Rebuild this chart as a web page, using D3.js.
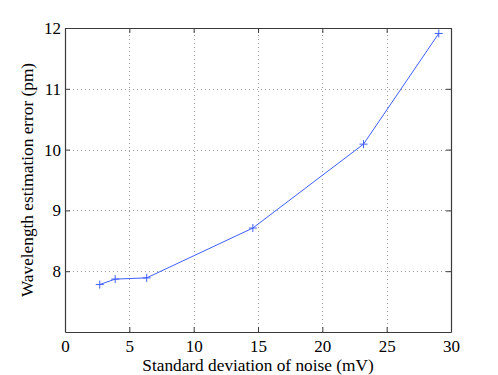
<!DOCTYPE html>
<html>
<head>
<meta charset="utf-8">
<script src="https://cdn.jsdelivr.net/npm/d3@7.8.5/dist/d3.min.js"></script>
<style>
  body { margin: 0; background: #fff; }
  svg { display: block; font-family: "Liberation Serif", "Times New Roman", serif; }
</style>
</head>
<body>
<div id="chart"></div>
<script>
const noiseStd = [2.7, 3.9, 6.35, 14.6, 23.2, 29.05]
const waveError = [7.78, 7.87, 7.89, 8.71, 10.09, 11.91]
const xTicks = [0, 5, 10, 15, 20, 25, 30]
const yTicks = [8, 9, 10, 11, 12]

const width = 498, height = 375
const margin = {top: 28, right: 47, bottom: 43, left: 65}
const tickFont = 17
const labelFont = 17.3
const lineColor = "#3f5fff"
const axisColor = "#3a3a3a"

const data = noiseStd.map((x, i) => ({x, y: waveError[i]}))

const x = d3.scaleLinear().domain([0, 30]).range([margin.left, width - margin.right])
const y = d3.scaleLinear().domain([7, 12]).range([height - margin.bottom, margin.top])

const svg = d3.select("#chart").append("svg")
  .attr("width", width).attr("height", height)

// dotted grid
const grid = svg.append("g").attr("stroke", "#9a9a9a").attr("stroke-width", 1)
  .attr("stroke-dasharray", "1,3")
grid.selectAll("line.gx").data(xTicks.slice(1, -1)).join("line")
  .attr("x1", d => Math.round(x(d)) + 0.5).attr("x2", d => Math.round(x(d)) + 0.5)
  .attr("y1", y(7)).attr("y2", y(12))
grid.selectAll("line.gy").data(yTicks.slice(0, -1)).join("line")
  .attr("y1", d => Math.round(y(d)) + 0.5).attr("y2", d => Math.round(y(d)) + 0.5)
  .attr("x1", x(0)).attr("x2", x(30))

// axes, ticks inward on all four sides (MATLAB box style)
const tickLen = 5
const fmt = d3.format("d")
const axes = [
  d3.axisBottom(x).tickValues(xTicks).tickFormat(fmt).tickSizeInner(-tickLen).tickSizeOuter(0).tickPadding(7.5),
  d3.axisTop(x).tickValues(xTicks).tickSizeInner(-tickLen).tickSizeOuter(0).tickFormat(""),
  d3.axisLeft(y).tickValues(yTicks).tickFormat(fmt).tickSizeInner(-tickLen).tickSizeOuter(0).tickPadding(4),
  d3.axisRight(y).tickValues(yTicks).tickSizeInner(-tickLen).tickSizeOuter(0).tickFormat("")
]
const translations = [
  [0, height - margin.bottom], [0, margin.top], [margin.left, 0], [width - margin.right, 0]
]
axes.forEach((ax, i) => {
  const g = svg.append("g")
    .attr("transform", `translate(${translations[i][0]},${translations[i][1]})`)
    .call(ax)
  g.attr("font-size", tickFont).attr("font-family", "'Liberation Serif', serif")
  g.select(".domain").attr("stroke", axisColor).attr("stroke-width", 1.2)
  g.selectAll(".tick line").attr("stroke", axisColor)
  g.selectAll(".tick text").attr("fill", "#000")
})

// data line and + markers
svg.append("path")
  .datum(data)
  .attr("fill", "none")
  .attr("stroke", lineColor)
  .attr("stroke-width", 1)
  .attr("d", d3.line().x(d => x(d.x)).y(d => y(d.y)))

const ms = 4
svg.append("g").selectAll("path").data(data).join("path")
  .attr("fill", "none")
  .attr("stroke", lineColor)
  .attr("stroke-width", 1)
  .attr("d", d => `M${x(d.x) - ms},${y(d.y)}H${x(d.x) + ms}M${x(d.x)},${y(d.y) - ms}V${y(d.y) + ms}`)

// axis labels
svg.append("text")
  .attr("x", (x(0) + x(30)) / 2)
  .attr("y", 371)
  .attr("text-anchor", "middle")
  .style("font-size", labelFont + "px")
  .text("Standard deviation of noise (mV)")

svg.append("text")
  .attr("transform", `translate(33,${(y(7) + y(12)) / 2}) rotate(-90)`)
  .attr("text-anchor", "middle")
  .style("font-size", labelFont + "px")
  .text("Wavelength estimation error (pm)")
</script>
</body>
</html>
